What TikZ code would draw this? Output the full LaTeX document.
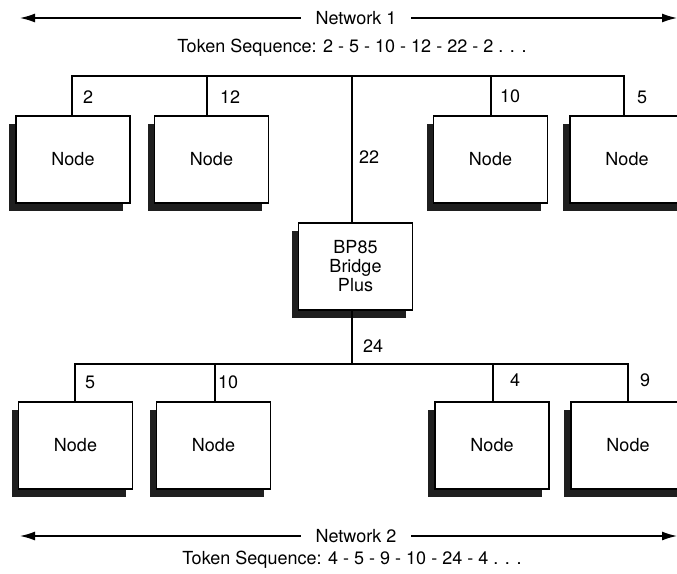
\documentclass[tikz,border=0pt]{standalone}
\usepackage{fontspec}
\setmainfont{TeX Gyre Heros}
\usetikzlibrary{arrows.meta,shadows}
\begin{document}
\begin{tikzpicture}[x=1pt,y=-1pt,
  box/.style={draw, line width=1.5pt, fill=white, minimum width=114pt, minimum height=87pt,
    inner sep=0pt, align=center, font=\fontsize{18}{19}\selectfont,
    drop shadow={shadow xshift=-7pt, shadow yshift=-8pt, opacity=1, fill=black!88}},
  bus/.style={line width=1.6pt},
  lbl/.style={font=\fontsize{18}{19}\selectfont, inner sep=0pt, anchor=west},
  net/.style={font=\fontsize{18}{19}\selectfont, inner xsep=14pt, inner ysep=0pt},
  tok/.style={font=\fontsize{18}{19}\selectfont, inner sep=0pt},
  netarrow/.style={line width=1.4pt, arrows={Latex[length=15pt,width=9pt]-}}]
\useasboundingbox (0,0) rectangle (677,573);

% Network 1 header
\coordinate (la1) at (20,18);
\coordinate (ra1) at (677,18);
\node[net] (net1) at (356,18) {Network 1};
\draw[netarrow] (la1) -- (net1.west);
\draw[netarrow] (ra1) -- (net1.east);
\node[tok] (tok1) at (352,48) {Token Sequence: 2 - 5 - 10 - 12 - 22 - 2 . . .};

% top nodes
\node[box] (n1) at (73,159.5) {Node};
\node[box] (n2) at (211.5,159.5) {Node};
\node[box] (n3) at (490.5,159.5) {Node};
\node[box] (n4) at (627,159.5) {Node};

% bridge
\node[box] (br) at (355.5,266.5) {BP85\\Bridge\\Plus};

% bottom nodes
\node[box] (m1) at (75.5,445.5) {Node};
\node[box] (m2) at (213.5,445.5) {Node};
\node[box] (m3) at (492,445.5) {Node};
\node[box] (m4) at (628,445.5) {Node};

% top bus
\coordinate (t1) at (72,76);
\coordinate (t2) at (207,76);
\coordinate (t3) at (352,76);
\coordinate (t4) at (491,76);
\coordinate (t5) at (624,76);
\draw[bus] (n1.north -| t1) -- (t1) -- (t5) -- (n4.north -| t5);
\draw[bus] (t2) -- (n2.north -| t2);
\draw[bus] (t3) -- (br.north -| t3);
\draw[bus] (t4) -- (n3.north -| t4);

% bottom bus
\coordinate (b1) at (75,364);
\coordinate (b2) at (215,364);
\coordinate (b3) at (352,364);
\coordinate (b4) at (493,364);
\coordinate (b5) at (628,364);
\draw[bus] (m1.north -| b1) -- (b1) -- (b5) -- (m4.north -| b5);
\draw[bus] (br.south -| b3) -- (b3);
\draw[bus] (b2) -- (m2.north -| b2);
\draw[bus] (b4) -- (m3.north -| b4);

% address labels
\node[lbl] (l2)  at (83,97)   {2};
\node[lbl] (l12) at (220,97)  {12};
\node[lbl] (l10) at (500,96)  {10};
\node[lbl] (l5)  at (637,97)  {5};
\node[lbl] (l22) at (359,157) {22};
\node[lbl] (l24) at (363,346) {24};
\node[lbl] (k5)  at (85,382)  {5};
\node[lbl] (k10) at (218,382) {10};
\node[lbl] (k4)  at (510,380) {4};
\node[lbl] (k9)  at (640,380) {9};

% Network 2 footer
\coordinate (la2) at (20,536);
\coordinate (ra2) at (677,536);
\node[net] (net2) at (356,536) {Network 2};
\draw[netarrow] (la2) -- (net2.west);
\draw[netarrow] (ra2) -- (net2.east);
\node[tok] (tok2) at (352,560) {Token Sequence: 4 - 5 - 9 - 10 - 24 - 4 . . .};
\end{tikzpicture}
\end{document}
